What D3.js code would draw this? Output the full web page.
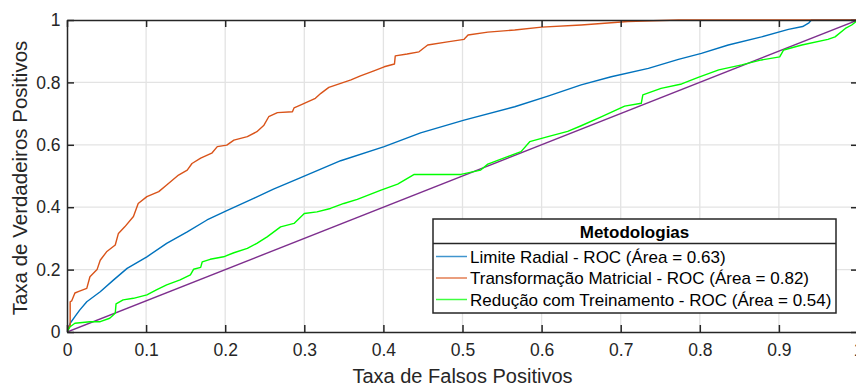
<!DOCTYPE html>
<html>
<head>
<meta charset="utf-8">
<script src="https://cdn.jsdelivr.net/npm/d3@7/dist/d3.min.js"></script>
<style>
  html, body { margin: 0; padding: 0; background: #fff; }
  svg { display: block; font-family: "Liberation Sans", Arial, Helvetica, sans-serif; }
</style>
</head>
<body>
<svg id="chart" width="856" height="385"></svg>
<script>
// ---- Data ----
const xTicks = [0, 0.1, 0.2, 0.3, 0.4, 0.5, 0.6, 0.7, 0.8, 0.9, 1];
const yTicks = [0, 0.2, 0.4, 0.6, 0.8, 1];
const xTickLabels = ["0", "0.1", "0.2", "0.3", "0.4", "0.5", "0.6", "0.7", "0.8", "0.9", "1"];
const yTickLabels = ["0", "0.2", "0.4", "0.6", "0.8", "1"];

const seriesNames = [
  "Limite Radial - ROC (Área = 0.63)",
  "Transformação Matricial - ROC (Área = 0.82)",
  "Redução com Treinamento - ROC (Área = 0.54)"
];
const seriesColors = ["#0072BD", "#D95319", "#00FF00"];
const diagColor = "#7E2F8E";

// Limite Radial (blue) [fpr, tpr]
const limiteRadial = [
  [0,0],[0.004,0.028],[0.01,0.049],[0.016,0.07],[0.025,0.097],[0.042,0.129],
  [0.059,0.167],[0.076,0.204],[0.101,0.241],[0.126,0.284],[0.152,0.321],
  [0.177,0.359],[0.202,0.389],[0.236,0.428],[0.261,0.458],[0.291,0.49],
  [0.346,0.549],[0.401,0.594],[0.447,0.638],[0.502,0.679],
  [0.566,0.722],[0.608,0.756],[0.65,0.792],[0.688,0.818],[0.735,0.845],
  [0.773,0.874],[0.802,0.893],[0.836,0.92],[0.878,0.946],[0.912,0.97],
  [0.93,0.979],[0.938,0.991],[0.941,1.0],[1,1]
];

// Transformação Matricial (orange)
const transfMatricial = [
  [0,0],[0.002,0.01],[0.003,0.02],[0.004,0.02],[0.004,0.097],[0.006,0.1],
  [0.01,0.125],[0.015,0.13],[0.025,0.14],[0.029,0.177],[0.038,0.2],
  [0.042,0.23],[0.05,0.257],[0.061,0.279],[0.065,0.316],[0.073,0.337],
  [0.084,0.37],[0.09,0.412],[0.101,0.434],[0.116,0.45],[0.126,0.471],
  [0.141,0.503],[0.152,0.519],[0.158,0.54],[0.169,0.557],[0.183,0.573],
  [0.19,0.594],[0.202,0.599],[0.211,0.615],[0.228,0.626],[0.24,0.642],
  [0.249,0.663],[0.255,0.69],[0.266,0.703],[0.285,0.706],[0.287,0.718],
  [0.295,0.727],[0.314,0.749],[0.321,0.765],[0.331,0.784],[0.346,0.797],
  [0.359,0.808],[0.371,0.821],[0.388,0.837],[0.401,0.85],[0.414,0.859],
  [0.415,0.885],[0.43,0.891],[0.445,0.898],[0.456,0.92],[0.481,0.93],
  [0.502,0.938],[0.507,0.952],[0.532,0.961],[0.566,0.968],[0.6,0.977],
  [0.65,0.984],[0.667,0.987],[0.709,0.995],[0.773,1.0],[1,1]
];

// Redução com Treinamento (green)
const reducaoTreino = [
  [0,0],[0.004,0.017],[0.01,0.028],[0.029,0.033],[0.042,0.033],[0.054,0.044],
  [0.061,0.06],[0.062,0.09],[0.071,0.103],[0.084,0.108],[0.101,0.119],
  [0.113,0.135],[0.126,0.151],[0.143,0.167],[0.156,0.183],[0.16,0.201],
  [0.169,0.207],[0.171,0.225],[0.181,0.233],[0.198,0.241],[0.211,0.254],
  [0.228,0.268],[0.24,0.284],[0.253,0.305],[0.27,0.337],[0.287,0.348],
  [0.3,0.38],[0.316,0.385],[0.333,0.396],[0.35,0.412],[0.367,0.425],
  [0.384,0.442],[0.397,0.455],[0.418,0.474],[0.439,0.505],[0.498,0.505],
  [0.523,0.519],[0.532,0.538],[0.557,0.562],[0.574,0.578],[0.585,0.61],
  [0.608,0.626],[0.633,0.643],[0.65,0.661],[0.676,0.69],[0.705,0.724],
  [0.726,0.733],[0.728,0.76],[0.751,0.781],[0.777,0.795],[0.798,0.816],
  [0.824,0.84],[0.853,0.856],[0.878,0.872],[0.901,0.882],[0.906,0.904],
  [0.929,0.92],[0.962,0.938],[0.971,0.946],[0.984,0.973],[0.992,0.984],[1,1]
];

const diagonal = [[0,0],[1,1]];

const legendTitle = "Metodologias";
const xLabel = "Taxa de Falsos Positivos";
const yLabel = "Taxa de Verdadeiros Positivos";

// ---- Layout ----
const svg = d3.select("#chart");
const plot = { left: 67, top: 20, right: 858, bottom: 332 };
const x = d3.scaleLinear().domain([0, 1]).range([plot.left, plot.right]);
const y = d3.scaleLinear().domain([0, 1]).range([plot.bottom, plot.top]);

const axisColor = "#262626";
const gridColor = "#e3e3e3";
const font = '"Liberation Sans", Arial, Helvetica, sans-serif';

svg.append("defs").append("clipPath").attr("id", "clip")
  .append("rect")
  .attr("x", plot.left).attr("y", plot.top - 1)
  .attr("width", plot.right - plot.left).attr("height", plot.bottom - plot.top + 2);

// Grid
const grid = svg.append("g");
grid.selectAll("line.gx").data(xTicks.slice(1, -1)).enter().append("line")
  .attr("x1", d => x(d)).attr("x2", d => x(d))
  .attr("y1", plot.top).attr("y2", plot.bottom)
  .attr("stroke", gridColor).attr("stroke-width", 1.3);
grid.selectAll("line.gy").data(yTicks.slice(1, -1)).enter().append("line")
  .attr("y1", d => y(d)).attr("y2", d => y(d))
  .attr("x1", plot.left).attr("x2", plot.right)
  .attr("stroke", gridColor).attr("stroke-width", 1.3);

// Curves
const line = d3.line().x(d => x(d[0])).y(d => y(d[1]));
const curves = svg.append("g").attr("clip-path", "url(#clip)");
curves.append("path").datum(diagonal).attr("d", line)
  .attr("fill", "none").attr("stroke", diagColor).attr("stroke-width", 1.4);
[limiteRadial, transfMatricial, reducaoTreino].forEach((data, i) => {
  curves.append("path").datum(data).attr("d", line)
    .attr("fill", "none").attr("stroke", seriesColors[i]).attr("stroke-width", 1.4)
    .attr("stroke-linejoin", "round");
});

// Axes (d3 axes with inward ticks)
const tickLen = 7;
const xAxisBottom = d3.axisBottom(x).tickValues(xTicks).tickSizeInner(-tickLen).tickSizeOuter(0)
  .tickFormat((d, i) => xTickLabels[i]).tickPadding(12);
const xAxisTop = d3.axisTop(x).tickValues(xTicks).tickSizeInner(-tickLen).tickSizeOuter(0).tickFormat("");
const yAxisLeft = d3.axisLeft(y).tickValues(yTicks).tickSizeInner(-tickLen).tickSizeOuter(0)
  .tickFormat((d, i) => yTickLabels[i]).tickPadding(6.5);
const yAxisRight = d3.axisRight(y).tickValues(yTicks).tickSizeInner(-tickLen).tickSizeOuter(0).tickFormat("");

function styleAxis(g) {
  g.select(".domain").attr("stroke", axisColor).attr("stroke-width", 1.5);
  g.selectAll(".tick line").attr("stroke", axisColor).attr("stroke-width", 1.5);
  g.selectAll(".tick text").attr("fill", axisColor).style("font-family", font).style("font-size", "17.5px");
}
svg.append("g").attr("transform", `translate(0,${plot.bottom})`).call(xAxisBottom).call(styleAxis);
svg.append("g").attr("transform", `translate(0,${plot.top})`).call(xAxisTop).call(styleAxis);
svg.append("g").attr("transform", `translate(${plot.left},0)`).call(yAxisLeft).call(styleAxis);
svg.append("g").attr("transform", `translate(${plot.right},0)`).call(yAxisRight).call(styleAxis);

// Axis labels
svg.append("text")
  .attr("x", x(0.5)).attr("y", 382.5)
  .attr("text-anchor", "middle").attr("fill", axisColor)
  .style("font-family", font).style("font-size", "20px")
  .text(xLabel);
svg.append("text")
  .attr("transform", `translate(27,${(plot.top + plot.bottom) / 2 + 2}) rotate(-90)`)
  .attr("text-anchor", "middle").attr("fill", axisColor)
  .style("font-family", font).style("font-size", "20.5px")
  .text(yLabel);

// Legend
const lg = { left: 433, top: 219, right: 836, bottom: 313, sep: 243.5 };
const legend = svg.append("g");
legend.append("rect")
  .attr("x", lg.left).attr("y", lg.top)
  .attr("width", lg.right - lg.left).attr("height", lg.bottom - lg.top)
  .attr("fill", "#fff").attr("stroke", axisColor).attr("stroke-width", 1.5);
legend.append("line")
  .attr("x1", lg.left).attr("x2", lg.right).attr("y1", lg.sep).attr("y2", lg.sep)
  .attr("stroke", axisColor).attr("stroke-width", 1.5);
legend.append("text")
  .attr("x", (lg.left + lg.right) / 2).attr("y", 238)
  .attr("text-anchor", "middle").attr("fill", "#000")
  .style("font-family", font).style("font-size", "17px").style("font-weight", "bold")
  .text(legendTitle);
const rowY = [256.5, 278, 299.5];
seriesNames.forEach((name, i) => {
  legend.append("line")
    .attr("x1", 436).attr("x2", 467).attr("y1", rowY[i]).attr("y2", rowY[i])
    .attr("stroke", seriesColors[i]).attr("stroke-width", 1.5).attr("stroke-opacity", 0.75);
  legend.append("text")
    .attr("x", 470).attr("y", rowY[i]).attr("dy", "0.36em")
    .attr("fill", "#000")
    .style("font-family", font).style("font-size", "17px")
    .text(name);
});
</script>
</body>
</html>
